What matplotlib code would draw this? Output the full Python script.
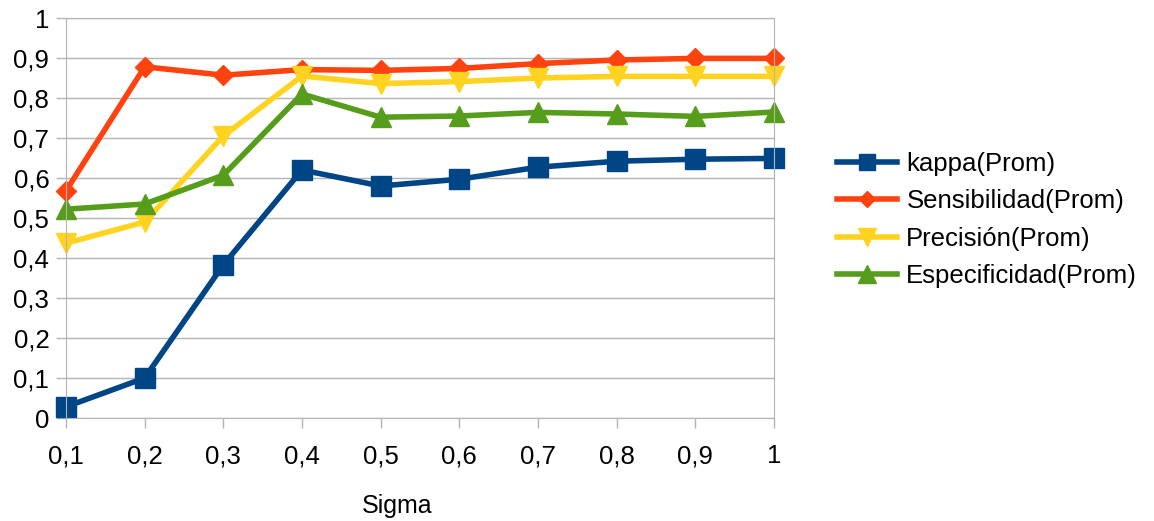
import matplotlib
matplotlib.use("Agg")
import matplotlib.pyplot as plt
from matplotlib.ticker import FuncFormatter, MultipleLocator

sigma = [0.1, 0.2, 0.3, 0.4, 0.5, 0.6, 0.7, 0.8, 0.9, 1.0]
kappa = [0.028, 0.100, 0.383, 0.620, 0.580, 0.597, 0.627, 0.642, 0.647, 0.649]
sensibilidad = [0.568, 0.878, 0.857, 0.871, 0.869, 0.874, 0.886, 0.895, 0.899, 0.899]
precision = [0.437, 0.490, 0.705, 0.855, 0.836, 0.841, 0.850, 0.854, 0.854, 0.854]
especificidad = [0.522, 0.535, 0.607, 0.810, 0.752, 0.755, 0.764, 0.760, 0.754, 0.765]

series_names = ["kappa(Prom)", "Sensibilidad(Prom)", "Precisión(Prom)", "Especificidad(Prom)"]


def comma(v, pos):
    return ("%g" % round(v, 2)).replace(".", ",")


def main():
    plt.rcParams['font.family'] = ['Liberation Sans', 'DejaVu Sans']
    fig = plt.figure(figsize=(11.54, 5.21), dpi=100)
    ax = fig.add_axes([66 / 1154, 1 - 418 / 521, 708 / 1154, 400 / 521])

    ax.plot(sigma, kappa, color="#004586", lw=4, marker="s", ms=14,
            clip_on=False, label=series_names[0])
    ax.plot(sigma, sensibilidad, color="#ff420e", lw=4, marker="D", ms=10,
            clip_on=False, label=series_names[1])
    ax.plot(sigma, precision, color="#ffd320", lw=4, marker="v", ms=15,
            clip_on=False, label=series_names[2])
    ax.plot(sigma, especificidad, color="#579d1c", lw=4, marker="^", ms=15,
            clip_on=False, label=series_names[3])

    ax.set_xlim(0.1, 1.0)
    ax.set_ylim(0, 1)
    ax.xaxis.set_major_locator(MultipleLocator(0.1))
    ax.yaxis.set_major_locator(MultipleLocator(0.1))
    ax.xaxis.set_major_formatter(FuncFormatter(comma))
    ax.yaxis.set_major_formatter(FuncFormatter(comma))

    ax.grid(axis='y', color="#b3b3b3", lw=1)
    ax.set_axisbelow(True)
    for s in ax.spines.values():
        s.set_color("#b3b3b3")
    ax.tick_params(axis='both', colors="#b3b3b3", labelcolor="black", length=7,
                   width=1, labelsize=18.5)
    ax.tick_params(axis='x', pad=12)
    ax.tick_params(axis='y', pad=5)

    # axis title
    ax.set_xlabel("Sigma", fontsize=18, va='center')
    ax.xaxis.set_label_coords((397 - 66) / 708, (418 - 506) / 400)

    ax.legend(loc="center left", bbox_to_anchor=(837 / 1154, 1 - 220 / 521),
              bbox_transform=fig.transFigure, frameon=False, fontsize=18.5,
              markerscale=0.85, handlelength=2.35, labelspacing=0.52,
              handletextpad=0.35, borderpad=0, borderaxespad=0)

    fig.savefig("out.png", dpi=100)


if __name__ == "__main__":
    main()
